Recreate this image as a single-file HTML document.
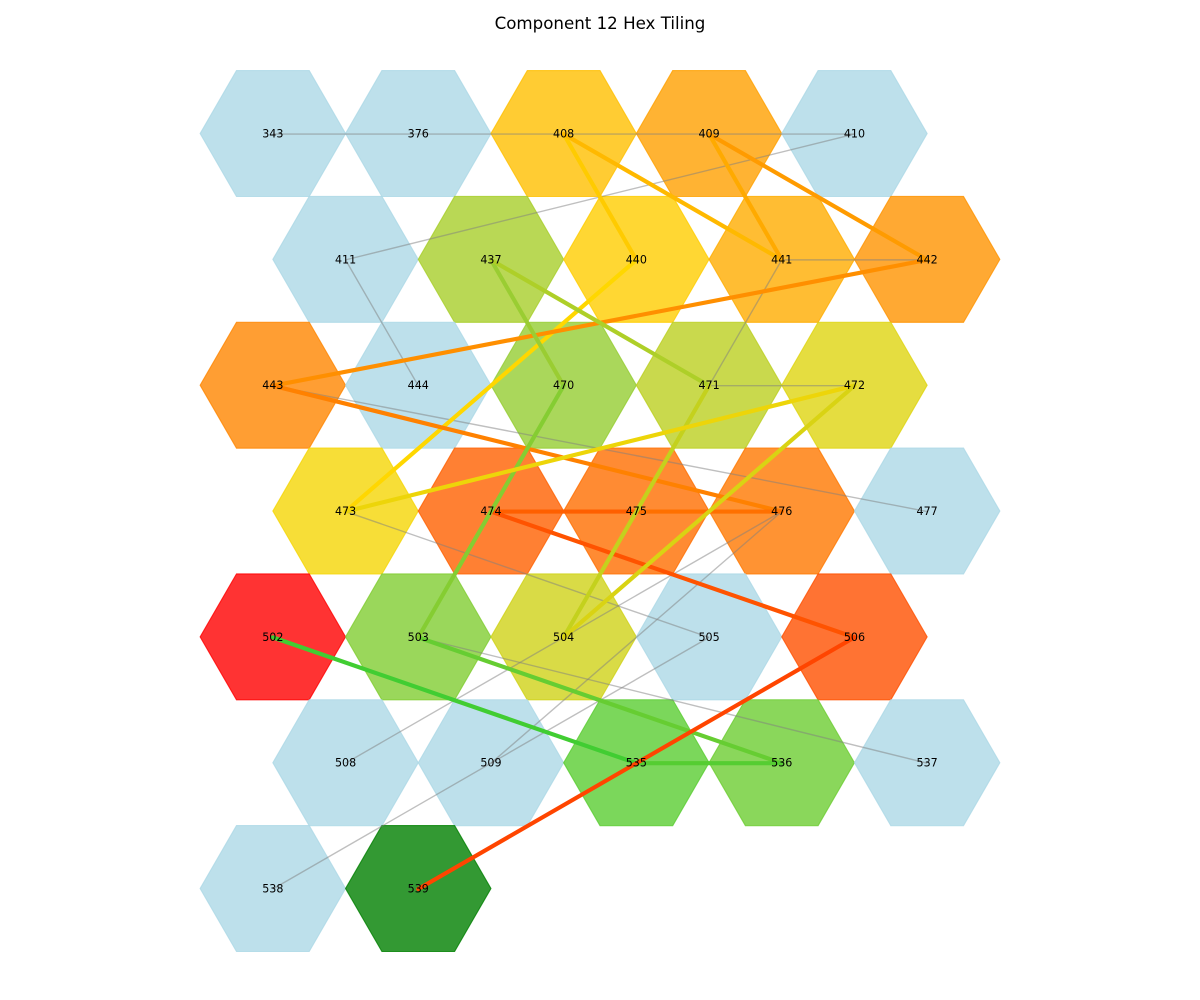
<!DOCTYPE html>
<html lang="en">
<head>
<meta charset="utf-8">
<title>Component 12 Hex Tiling</title>
<style>
html,body{margin:0;padding:0;background:#fff;}
svg{display:block;}
text{font-family:"DejaVu Sans","Liberation Sans",sans-serif;}
</style>
</head>
<body>
<svg id="chart" xmlns="http://www.w3.org/2000/svg" width="1200" height="1000" viewBox="0 0 1200 1000">
  <rect x="0" y="0" width="1200" height="1000" fill="#ffffff"/>
  <text x="600" y="29" text-anchor="middle" font-size="16.67" fill="#000000">Component 12 Hex Tiling</text>
  <g id="hexes"></g>
  <g id="links"></g>
  <g id="path"></g>
  <g id="labels"></g>
</svg>
<script>
// Node data
const nodeIds   = [343,376,408,409,410, 411,437,440,441,442, 443,444,470,471,472, 473,474,475,476,477, 502,503,504,505,506, 508,509,535,536,537, 538,539];
const nodeRows  = [0,0,0,0,0, 1,1,1,1,1, 2,2,2,2,2, 3,3,3,3,3, 4,4,4,4,4, 5,5,5,5,5, 6,6];
const nodeCols  = [0,1,2,3,4, 0,1,2,3,4, 0,1,2,3,4, 0,1,2,3,4, 0,1,2,3,4, 0,1,2,3,4, 0,1];
// Position along the green-gold-red scale; null = not on the path
const nodeScores = [
  null,null,0.58,0.685,null,
  null,0.285,0.535,0.64,0.725,
  0.77,null,0.238,0.333,0.42,
  0.475,0.905,0.857,0.82,null,
  null,0.19,0.381,null,0.96,
  null,null,0.095,0.143,null,
  null,null
];
const startNodes = [502];
const endNodes   = [539];

// Thin gray links
const linkFrom = [343,376,408,409,410,411,441,441,471,443,473,476,476,505,503];
const linkTo   = [376,408,409,410,411,444,442,471,472,477,505,508,509,538,537];

// Colored path edges, in draw order
const edgeFrom   = [440,442,408,408,409,409,443,475,474,474,502,503,535,506,437,437,470,471,472,472];
const edgeTo     = [473,443,440,441,441,442,476,476,475,506,535,536,536,539,470,471,503,504,473,504];
const edgeScores = [0.50,0.74,0.54,0.60,0.65,0.70,0.79,0.85,0.91,0.95,0.035,0.125,0.084,1.00,0.25,0.30,0.20,0.355,0.455,0.405];

// Axis functions
function xPos(col,row){return 272.85+145.4*col+72.7*(row%2);}
function yPos(row){return 133.55+125.83*row;}

const R = 72.7;
const NS = 'http://www.w3.org/2000/svg';
const rampStops = [[50,205,50],[154,205,50],[255,215,0],[255,140,0],[255,69,0]];
function rampColor(s){
  const pos = Math.max(0,Math.min(0.9999,s))*(rampStops.length-1);
  const k = Math.floor(pos), t = pos-k;
  const a = rampStops[k], b = rampStops[k+1];
  const c = [0,1,2].map(function(i){return Math.round(a[i]+(b[i]-a[i])*t);});
  return 'rgb('+c.join(',')+')';
}
function nodeColor(i){
  if(startNodes.indexOf(nodeIds[i])>=0) return '#ff0000';
  if(endNodes.indexOf(nodeIds[i])>=0) return '#008000';
  if(nodeScores[i]===null) return '#add8e6';
  return rampColor(nodeScores[i]);
}
function nodeXY(id){
  const i=nodeIds.indexOf(id);
  return [xPos(nodeCols[i],nodeRows[i]),yPos(nodeRows[i])];
}

const hexLayer=document.getElementById('hexes');
nodeIds.forEach(function(id,i){
  const cx=xPos(nodeCols[i],nodeRows[i]), cy=yPos(nodeRows[i]);
  const pts=[];
  for(let k=0;k<6;k++){
    const ang=Math.PI/3*k;
    pts.push((cx+R*Math.cos(ang)).toFixed(2)+','+(cy+R*Math.sin(ang)).toFixed(2));
  }
  const el=document.createElementNS(NS,'polygon');
  
  
  el.setAttribute('points',pts.join(' '));
  const col=nodeColor(i);
  el.setAttribute('fill',col);
  el.setAttribute('fill-opacity','0.8');
  el.setAttribute('stroke',col);
  el.setAttribute('stroke-opacity','0.8');
  el.setAttribute('stroke-width','1.1');
  hexLayer.appendChild(el);
});

const linkLayer=document.getElementById('links');
linkFrom.forEach(function(a,i){
  const p=nodeXY(a), q=nodeXY(linkTo[i]);
  const el=document.createElementNS(NS,'line');
  
  
  el.setAttribute('x1',p[0]);
  el.setAttribute('y1',p[1]+0.5);
  el.setAttribute('x2',q[0]);
  el.setAttribute('y2',q[1]+0.5);
  el.setAttribute('stroke','#808080');
  el.setAttribute('stroke-opacity','0.5');
  el.setAttribute('stroke-width','1.39');
  linkLayer.appendChild(el);
});

const pathLayer=document.getElementById('path');
edgeFrom.forEach(function(a,i){
  const p=nodeXY(a), q=nodeXY(edgeTo[i]);
  const el=document.createElementNS(NS,'line');
  
  
  el.setAttribute('x1',p[0]);
  el.setAttribute('y1',p[1]+0.5);
  el.setAttribute('x2',q[0]);
  el.setAttribute('y2',q[1]+0.5);
  el.setAttribute('stroke',rampColor(edgeScores[i]));
  el.setAttribute('stroke-width','4.17');
  el.setAttribute('stroke-linecap','round');
  pathLayer.appendChild(el);
});

const labelLayer=document.getElementById('labels');
nodeIds.forEach(function(id,i){
  const el=document.createElementNS(NS,'text');
  
  
  el.setAttribute('x',xPos(nodeCols[i],nodeRows[i]));
  el.setAttribute('y',yPos(nodeRows[i])+4);
  el.setAttribute('text-anchor','middle');
  el.setAttribute('font-size','11.11');
  el.setAttribute('fill','#000000');
  el.textContent=String(id);
  labelLayer.appendChild(el);
});
</script>
</body>
</html>
